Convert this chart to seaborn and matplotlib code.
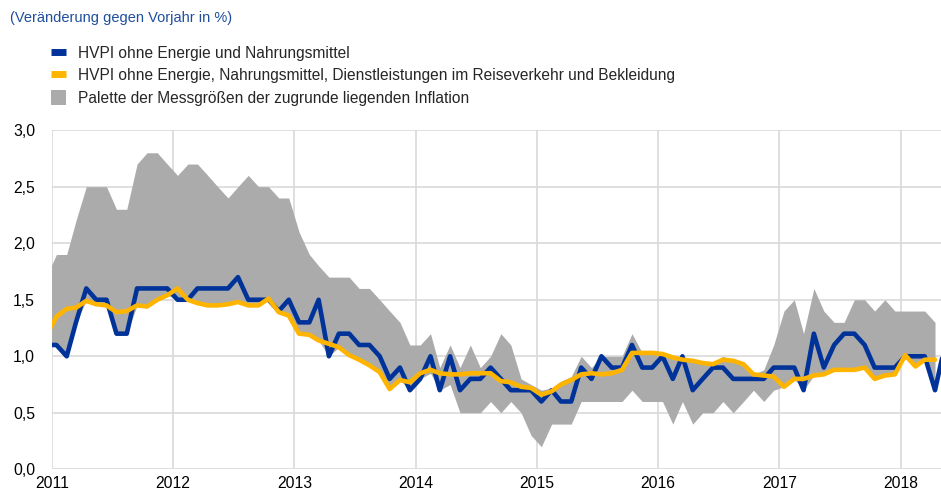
import numpy as np
import pandas as pd
import matplotlib
matplotlib.use('Agg')
import matplotlib.pyplot as plt
import matplotlib.dates as mdates
from matplotlib.lines import Line2D
from matplotlib.patches import Patch
import seaborn as sns

# monthly values, Dec 2010 .. Apr/May 2018 (year-on-year, %)
core_blue = [1.1,
             1.1, 1.0, 1.3, 1.6, 1.5, 1.5, 1.2, 1.2, 1.6, 1.6, 1.6, 1.6,
             1.5, 1.5, 1.6, 1.6, 1.6, 1.6, 1.7, 1.5, 1.5, 1.5, 1.4, 1.5,
             1.3, 1.3, 1.5, 1.0, 1.2, 1.2, 1.1, 1.1, 1.0, 0.8, 0.9, 0.7,
             0.8, 1.0, 0.7, 1.0, 0.7, 0.8, 0.8, 0.9, 0.8, 0.7, 0.7, 0.7,
             0.6, 0.7, 0.6, 0.6, 0.9, 0.8, 1.0, 0.9, 0.9, 1.1, 0.9, 0.9,
             1.0, 0.8, 1.0, 0.7, 0.8, 0.9, 0.9, 0.8, 0.8, 0.8, 0.8, 0.9,
             0.9, 0.9, 0.7, 1.2, 0.9, 1.1, 1.2, 1.2, 1.1, 0.9, 0.9, 0.9,
             1.0, 1.0, 1.0, 0.7, 1.1]

core_yellow = [1.18,
               1.35, 1.42, 1.43, 1.49, 1.46, 1.45, 1.39, 1.40, 1.45, 1.44, 1.50, 1.54,
               1.60, 1.50, 1.47, 1.45, 1.45, 1.46, 1.48, 1.45, 1.45, 1.51, 1.39, 1.36,
               1.20, 1.19, 1.14, 1.11, 1.08, 1.01, 0.97, 0.92, 0.86, 0.71, 0.79, 0.77,
               0.85, 0.88, 0.85, 0.84, 0.84, 0.85, 0.85, 0.85, 0.78, 0.77, 0.73, 0.72,
               0.66, 0.69, 0.75, 0.79, 0.84, 0.85, 0.84, 0.85, 0.88, 1.03, 1.03, 1.03,
               1.02, 0.99, 0.97, 0.96, 0.94, 0.93, 0.97, 0.96, 0.93, 0.84, 0.83, 0.82,
               0.73, 0.80, 0.80, 0.83, 0.84, 0.88, 0.88, 0.88, 0.90, 0.80, 0.83, 0.84,
               1.01, 0.91, 0.97, 0.97]

range_high = [1.7,
              1.9, 1.9, 2.2, 2.5, 2.5, 2.5, 2.3, 2.3, 2.7, 2.8, 2.8, 2.7,
              2.6, 2.7, 2.7, 2.6, 2.5, 2.4, 2.5, 2.6, 2.5, 2.5, 2.4, 2.4,
              2.1, 1.9, 1.8, 1.7, 1.7, 1.7, 1.6, 1.6, 1.5, 1.4, 1.3, 1.1,
              1.1, 1.2, 0.9, 1.1, 0.9, 1.1, 0.9, 1.0, 1.2, 1.1, 0.8, 0.75,
              0.7, 0.72, 0.78, 0.82, 1.0, 0.9, 1.0, 1.0, 1.0, 1.2, 1.03, 1.03,
              1.02, 0.99, 1.0, 0.96, 0.94, 0.93, 1.0, 0.96, 0.93, 0.84, 0.88, 1.1,
              1.4, 1.5, 1.2, 1.6, 1.4, 1.3, 1.3, 1.5, 1.5, 1.4, 1.5, 1.4,
              1.4, 1.4, 1.4, 1.3]

range_low = [1.1,
             1.1, 1.0, 1.3, 1.49, 1.46, 1.45, 1.2, 1.2, 1.45, 1.44, 1.5, 1.54,
             1.5, 1.5, 1.47, 1.45, 1.45, 1.46, 1.48, 1.45, 1.45, 1.5, 1.39, 1.36,
             1.2, 1.19, 1.14, 1.0, 1.08, 1.01, 0.97, 0.92, 0.86, 0.71, 0.79, 0.7,
             0.8, 0.85, 0.7, 0.75, 0.5, 0.5, 0.5, 0.6, 0.5, 0.6, 0.5, 0.3,
             0.2, 0.4, 0.4, 0.4, 0.6, 0.6, 0.6, 0.6, 0.6, 0.7, 0.6, 0.6,
             0.6, 0.4, 0.6, 0.4, 0.5, 0.5, 0.6, 0.5, 0.6, 0.7, 0.6, 0.7,
             0.73, 0.8, 0.7, 0.83, 0.84, 0.88, 0.88, 0.88, 0.9, 0.8, 0.83, 0.84,
             1.0, 0.91, 0.97, 0.7]

labels = ['HVPI ohne Energie und Nahrungsmittel',
          'HVPI ohne Energie, Nahrungsmittel, Dienstleistungen im Reiseverkehr und Bekleidung',
          'Palette der Messgrößen der zugrunde liegenden Inflation']
subtitle = '(Veränderung gegen Vorjahr in %)'

blue = '#003399'
yellow = '#FFB400'
grey = '#ABABAB'

# mid-month positions
months = pd.date_range('2010-12-01', periods=len(core_blue), freq='MS') + pd.Timedelta(days=14)
df_blue = pd.DataFrame({'date': months, 'value': core_blue})
df_yel = pd.DataFrame({'date': months[:len(core_yellow)], 'value': core_yellow})
df_rng = pd.DataFrame({'date': months[:len(range_high)], 'low': range_low, 'high': range_high})

sns.set_style('white')
plt.rcParams['font.family'] = ['Liberation Sans', 'DejaVu Sans']

fig = plt.figure(figsize=(9.41, 4.93), dpi=100)
ax = fig.add_axes([0.055, 0.048, 0.945, 0.688])

ax.fill_between(df_rng['date'], df_rng['low'], df_rng['high'], color=grey, lw=0, zorder=2)
sns.lineplot(data=df_blue, x='date', y='value', color=blue, lw=3.3, ax=ax, zorder=3)
sns.lineplot(data=df_yel, x='date', y='value', color=yellow, lw=3.3, ax=ax, zorder=4)

ax.set_xlim(pd.Timestamp('2011-01-01'), pd.Timestamp('2018-05-03'))
ax.set_ylim(0, 3.0)
ax.set_yticks(np.arange(0, 3.01, 0.5))
ax.set_yticklabels([f'{v:.1f}'.replace('.', ',') for v in np.arange(0, 3.01, 0.5)])
ax.xaxis.set_major_locator(mdates.YearLocator())
ax.xaxis.set_major_formatter(mdates.DateFormatter('%Y'))
ax.set_xlabel('')
ax.set_ylabel('')

ax.grid(True, color='#D9D9D9', lw=1.2, zorder=0)
ax.set_axisbelow(True)
for s in ax.spines.values():
    s.set_visible(False)
ax.tick_params(axis='both', length=0, labelsize=11.3, colors='#000000')
ax.tick_params(axis='y', pad=12)
ax.tick_params(axis='x', pad=5)

fig.text(0.011, 0.963, subtitle, fontsize=10.5, color='#1F4E9F', va='center', ha='left')

handles = [Line2D([], [], color=blue, lw=5, solid_capstyle='butt'),
           Line2D([], [], color=yellow, lw=5, solid_capstyle='butt'),
           Patch(facecolor=grey, edgecolor='none')]
fig.legend(handles, labels, loc='upper left', bbox_to_anchor=(0.054, 0.908),
           frameon=False, fontsize=11.2, handlelength=1.0, handleheight=1.1,
           handletextpad=0.75, labelspacing=0.42, borderaxespad=0, borderpad=0)

fig.savefig('out.png', dpi=100)
